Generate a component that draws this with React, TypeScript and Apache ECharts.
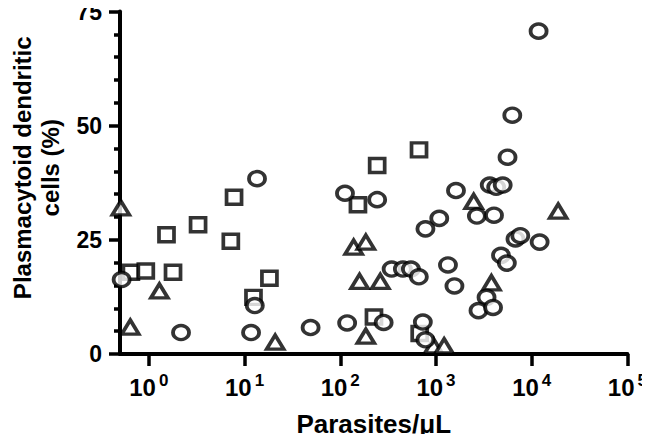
import React, { useEffect, useRef } from "react";
import * as echarts from "echarts";

const circleX = [0.52, 2.17, 13.5, 12.8, 11.7, 49, 118, 112, 243, 284, 344, 451, 547, 662, 776, 1082, 729, 776, 1334, 1559, 1618, 3645, 4256, 4977, 2675, 4036, 6770, 7600, 12100, 4780, 5500, 3375, 2780, 3945, 11800, 6270, 5590];
const circleY = [16.3, 4.7, 38.4, 10.6, 4.7, 5.8, 6.8, 35.2, 33.8, 6.9, 18.6, 18.6, 18.6, 16.9, 27.4, 29.7, 7.0, 3.1, 19.5, 14.9, 35.8, 37.0, 36.5, 37.0, 30.2, 30.4, 25.2, 25.9, 24.5, 21.6, 19.9, 12.4, 9.5, 10.2, 70.7, 52.3, 43.1];

const squareX = [0.65, 0.93, 1.53, 1.79, 3.27, 7.19, 7.77, 12.4, 18.2, 153, 243, 225, 665, 676];
const squareY = [17.9, 18.2, 26.1, 17.9, 28.3, 24.7, 34.3, 12.4, 16.6, 32.7, 41.3, 8.1, 44.7, 4.5];

const triangleX = [0.51, 0.64, 1.29, 20.9, 138, 185, 159, 262, 185, 942, 1216, 2477, 3793, 18900];
const triangleY = [32.0, 5.9, 13.8, 2.6, 23.4, 24.5, 15.9, 15.9, 3.9, 1.8, 1.8, 33.4, 15.6, 31.3];

const xTickValues = [1, 10, 100, 1000, 10000, 100000];
const yTickValues = [0, 25, 50, 75];

const xName = "Parasites/\u03BCL";
const yName = "Plasmacytoid dendritic\ncells (%)";

const FONT = "'Liberation Sans', Arial, Helvetica, sans-serif";

function zip(xs: number[], ys: number[]) {
  return xs.map((x, i) => [x, ys[i]]);
}

export default function App() {
  const ref = useRef<HTMLDivElement>(null);
  useEffect(() => {
    if (!ref.current) return;
    const chart = echarts.init(ref.current, null, { renderer: "svg" });
    const markerStyle = { color: "#ffffff", borderColor: "#000000", borderWidth: 3.6 };
    chart.setOption({
      animation: false,
      backgroundColor: "#ffffff",
      grid: { left: 105, right: 19, top: 11, bottom: 81, containLabel: false },
      xAxis: {
        type: "log",
        logBase: 10,
        min: 0.5,
        max: 100000,
        name: xName,
        nameLocation: "middle",
        nameGap: 57,
        nameTextStyle: { fontFamily: FONT, fontWeight: "bold", fontSize: 26, color: "#000" },
        axisLine: { show: true, onZero: false, lineStyle: { color: "#000", width: 4 } },
        axisTick: { show: true, length: 12, lineStyle: { color: "#000", width: 3.5 }, customValues: xTickValues },
        axisLabel: {
          customValues: xTickValues,
          margin: 18,
          color: "#000",
          formatter: (v: number) => "{b|10}{s|" + Math.round(Math.log10(v)) + "}",
          rich: {
            b: { fontFamily: FONT, fontWeight: "bold", fontSize: 24, color: "#000", lineHeight: 27, verticalAlign: "bottom" },
            s: { fontFamily: FONT, fontWeight: "bold", fontSize: 17, color: "#000", lineHeight: 17, verticalAlign: "top", padding: [0, 0, 0, 3] },
          },
        },
        splitLine: { show: false },
        minorTick: { show: false },
      },
      yAxis: {
        type: "value",
        min: yTickValues[0],
        max: yTickValues[yTickValues.length - 1],
        interval: 25,
        name: yName,
        nameLocation: "middle",
        nameGap: 56,
        nameRotate: 90,
        nameTextStyle: { fontFamily: FONT, fontWeight: "bold", fontSize: 24, color: "#000", lineHeight: 28, padding: [0, 0, 0, 30] },
        axisLine: { show: true, lineStyle: { color: "#000", width: 4 } },
        axisTick: { show: true, length: 11, lineStyle: { color: "#000", width: 3.5 } },
        minorTick: { show: true, splitNumber: 5, length: 6, lineStyle: { color: "#000", width: 3.5 } },
        axisLabel: { margin: 18, fontFamily: FONT, fontWeight: "bold", fontSize: 23, color: "#000" },
        splitLine: { show: false },
      },
      series: [
        { type: "scatter", name: "squares", symbol: "rect", symbolSize: [15, 14], itemStyle: markerStyle, data: zip(squareX, squareY), z: 2 },
        { type: "scatter", name: "triangles", symbol: "triangle", symbolSize: [17, 14], itemStyle: markerStyle, data: zip(triangleX, triangleY), z: 3 },
        { type: "scatter", name: "circles", symbol: "circle", symbolSize: [16, 14], itemStyle: markerStyle, data: zip(circleX, circleY), z: 4 },
      ],
    });
    return () => chart.dispose();
  }, []);
  return <div ref={ref} style={{ width: 650, height: 442, margin: -8 }} />;
}
